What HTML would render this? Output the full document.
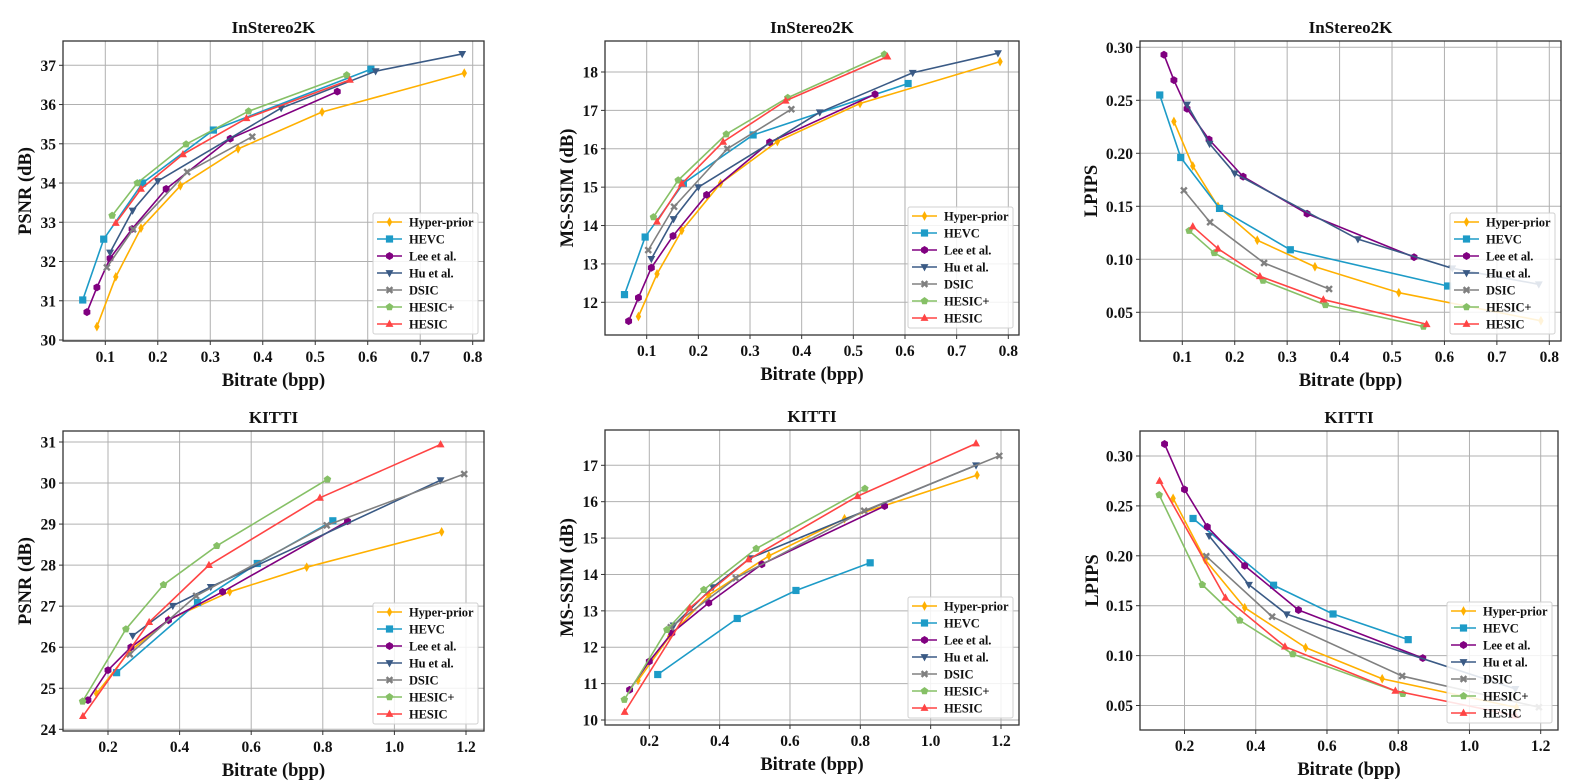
<!DOCTYPE html>
<html><head><meta charset="utf-8">
<style>
html,body{margin:0;padding:0;background:#fff;}
svg{display:block;font-family:"Liberation Serif","Times New Roman",serif;}
</style></head>
<body>
<svg id="fig" width="1576" height="784" viewBox="0 0 1576 784" xmlns="http://www.w3.org/2000/svg"></svg>
<script>
// ---- series metadata ----
const seriesNames = ["Hyper-prior","HEVC","Lee et al.","Hu et al.","DSIC","HESIC+","HESIC"];
// ---- InStereo2K bitrates ----
const isHyperX = [0.084,0.120,0.168,0.243,0.353,0.513,0.784];
const isHevcX  = [0.057,0.097,0.171,0.306,0.606];
const isLeeX   = [0.065,0.084,0.109,0.151,0.216,0.338,0.542];
const isHuX    = [0.109,0.152,0.200,0.435,0.615,0.780];
const isDsicX  = [0.103,0.153,0.256,0.380];
const isHesicPX= [0.113,0.161,0.254,0.373,0.560];
const isHesicX = [0.120,0.168,0.248,0.369,0.566];
// InStereo2K PSNR
const isPsnrHyper = [30.34,31.61,32.85,33.93,34.87,35.81,36.80];
const isPsnrHevc  = [31.02,32.57,34.00,35.35,36.90];
const isPsnrLee   = [30.71,31.34,32.08,32.83,33.85,35.13,36.33];
const isPsnrHu    = [32.23,33.30,34.05,35.91,36.85,37.29];
const isPsnrDsic  = [31.85,32.82,34.28,35.18];
const isPsnrHesicP= [33.17,34.00,34.99,35.83,36.75];
const isPsnrHesic = [32.98,33.85,34.73,35.65,36.63];
// InStereo2K MS-SSIM
const isSsimHyper = [11.63,12.74,13.87,15.10,16.19,17.18,18.27];
const isSsimHevc  = [12.20,13.70,15.10,16.36,17.70];
const isSsimLee   = [11.51,12.12,12.90,13.73,14.80,16.17,17.42];
const isSsimHu    = [13.13,14.17,15.00,16.95,17.98,18.49];
const isSsimDsic  = [13.36,14.49,16.00,17.03];
const isSsimHesicP= [14.22,15.18,16.38,17.33,18.46];
const isSsimHesic = [14.10,15.09,16.18,17.25,18.40];
// InStereo2K LPIPS
const isLpHyper = [0.230,0.188,0.150,0.118,0.093,0.0685,0.042];
const isLpHevc  = [0.255,0.196,0.148,0.109,0.0748];
const isLpLee   = [0.293,0.269,0.242,0.213,0.178,0.143,0.102];
const isLpHu    = [0.246,0.209,0.181,0.119,0.0915,0.0764];
const isLpDsic  = [0.165,0.135,0.0965,0.072];
const isLpHesicP= [0.127,0.106,0.080,0.057,0.0365];
const isLpHesic = [0.131,0.110,0.084,0.062,0.0387];
// ---- KITTI bitrates ----
const kHyperX = [0.168,0.258,0.369,0.540,0.755,1.132];
const kHevcX  = [0.224,0.450,0.617,0.828];
const kLeeX   = [0.144,0.200,0.264,0.369,0.520,0.869];
const kHuX    = [0.269,0.381,0.487,1.129];
const kDsicX  = [0.261,0.446,0.811,1.195];
const kHesicPX= [0.129,0.250,0.355,0.504,0.813];
const kHesicX = [0.130,0.315,0.482,0.792,1.129];
// KITTI PSNR
const kPsnrHyper = [24.87,25.88,26.67,27.35,27.95,28.81];
const kPsnrHevc  = [25.38,27.09,28.04,29.08];
const kPsnrLee   = [24.71,25.44,26.00,26.66,27.35,29.07];
const kPsnrHu    = [26.28,27.01,27.47,30.07];
const kPsnrDsic  = [25.83,27.25,28.97,30.22];
const kPsnrHesicP= [24.68,26.44,27.52,28.47,30.09];
const kPsnrHesic = [24.32,26.61,28.00,29.64,30.94];
// KITTI MS-SSIM
const kSsimHyper = [11.09,12.30,13.43,14.51,15.53,16.73];
const kSsimHevc  = [11.25,12.79,13.56,14.32];
const kSsimLee   = [10.83,11.61,12.39,13.22,14.28,15.88];
const kSsimHu    = [12.60,13.65,14.45,17.00];
const kSsimDsic  = [12.55,13.90,15.75,17.26];
const kSsimHesicP= [10.56,12.48,13.58,14.71,16.36];
const kSsimHesic = [10.22,13.08,14.41,16.15,17.60];
// KITTI LPIPS
const kLpHyper = [0.2575,0.196,0.148,0.108,0.0768,0.048];
const kLpHevc  = [0.2374,0.1705,0.1417,0.116];
const kLpLee   = [0.312,0.2665,0.229,0.190,0.1457,0.0975];
const kLpHu    = [0.220,0.171,0.1414,0.0667];
const kLpDsic  = [0.1996,0.139,0.0795,0.0483];
const kLpHesicP= [0.261,0.171,0.1353,0.1015,0.0617];
const kLpHesic = [0.275,0.158,0.109,0.0647,0.040];
// tick labels
const isXTicks = [0.1,0.2,0.3,0.4,0.5,0.6,0.7,0.8];
const kXTicks  = [0.2,0.4,0.6,0.8,1.0,1.2];
const isPsnrTicks = [30,31,32,33,34,35,36,37];
const isSsimTicks = [12,13,14,15,16,17,18];
const lpTicks = [0.05,0.10,0.15,0.20,0.25,0.30];
const kPsnrTicks = [24,25,26,27,28,29,30,31];
const kSsimTicks = [10,11,12,13,14,15,16,17];

const colors = ["#FFB000","#1D9BC7","#800080","#3A5A85","#808080","#86C066","#FF4444"];
const markers = ["diamond","square","hex","tridown","x","pent","triup"];

const isXs = [isHyperX,isHevcX,isLeeX,isHuX,isDsicX,isHesicPX,isHesicX];
const kXs  = [kHyperX,kHevcX,kLeeX,kHuX,kDsicX,kHesicPX,kHesicX];

const plots = [
 {name:"instereo-psnr",title:"InStereo2K",ylabel:"PSNR (dB)",box:[63,41,484,341],xr:[0.1,105.3,0.8,472.7],yr:[37,65.3,30,340],xt:isXTicks,yt:isPsnrTicks,yd:0,xd:1,ylx:25,xs:isXs,ys:[isPsnrHyper,isPsnrHevc,isPsnrLee,isPsnrHu,isPsnrDsic,isPsnrHesicP,isPsnrHesic]},
 {name:"instereo-msssim",title:"InStereo2K",ylabel:"MS-SSIM (dB)",box:[605,41,1019,335],xr:[0.1,646.7,0.8,1008.3],yr:[18,72,12,302.3],xt:isXTicks,yt:isSsimTicks,yd:0,xd:1,ylx:567,xs:isXs,ys:[isSsimHyper,isSsimHevc,isSsimLee,isSsimHu,isSsimDsic,isSsimHesicP,isSsimHesic]},
 {name:"instereo-lpips",title:"InStereo2K",ylabel:"LPIPS",box:[1140,41,1561,341],xr:[0.1,1182.3,0.8,1549.3],yr:[0.30,47.3,0.05,312.3],xt:isXTicks,yt:lpTicks,yd:2,xd:1,ylx:1091,xs:isXs,ys:[isLpHyper,isLpHevc,isLpLee,isLpHu,isLpDsic,isLpHesicP,isLpHesic]},
 {name:"kitti-psnr",title:"KITTI",ylabel:"PSNR (dB)",box:[63,431,484,731],xr:[0.2,108,1.2,466],yr:[31,442,24,729.3],xt:kXTicks,yt:kPsnrTicks,yd:0,xd:1,ylx:25,xs:kXs,ys:[kPsnrHyper,kPsnrHevc,kPsnrLee,kPsnrHu,kPsnrDsic,kPsnrHesicP,kPsnrHesic]},
 {name:"kitti-msssim",title:"KITTI",ylabel:"MS-SSIM (dB)",box:[605,430,1019,725],xr:[0.2,649.3,1.2,1001],yr:[17,465.3,10,720],xt:kXTicks,yt:kSsimTicks,yd:0,xd:1,ylx:567,xs:kXs,ys:[kSsimHyper,kSsimHevc,kSsimLee,kSsimHu,kSsimDsic,kSsimHesicP,kSsimHesic]},
 {name:"kitti-lpips",title:"KITTI",ylabel:"LPIPS",box:[1140,431,1558,730],xr:[0.2,1184.5,1.2,1540.7],yr:[0.30,456,0.05,705.5],xt:kXTicks,yt:lpTicks,yd:2,xd:1,ylx:1092,xs:kXs,ys:[kLpHyper,kLpHevc,kLpLee,kLpHu,kLpDsic,kLpHesicP,kLpHesic]}
];

const NS="http://www.w3.org/2000/svg";
const svg=document.getElementById("fig");
function mk(tag,attrs,parent){const e=document.createElementNS(NS,tag);for(const k in attrs)e.setAttribute(k,attrs[k]);(parent||svg).appendChild(e);return e;}
function lin(r){const s=(r[3]-r[1])/(r[2]-r[0]);return v=>r[1]+(v-r[0])*s;}

function marker(type,cx,cy,col,g){
  const r=3.6;let el;
  if(type==="square"){el=mk("rect",{x:cx-r,y:cy-r,width:2*r,height:2*r,fill:col},g);}
  else if(type==="diamond"){el=mk("polygon",{points:`${cx},${cy-r*1.35} ${cx+r*0.75},${cy} ${cx},${cy+r*1.35} ${cx-r*0.75},${cy}`,fill:col},g);}
  else if(type==="hex"){let p=[];for(let i=0;i<6;i++){const a=Math.PI/6+i*Math.PI/3;p.push((cx+r*1.1*Math.cos(a)).toFixed(2)+","+(cy+r*1.1*Math.sin(a)).toFixed(2));}el=mk("polygon",{points:p.join(" "),fill:col},g);}
  else if(type==="pent"){let p=[];for(let i=0;i<5;i++){const a=-Math.PI/2+i*2*Math.PI/5;p.push((cx+r*1.1*Math.cos(a)).toFixed(2)+","+(cy+r*1.1*Math.sin(a)).toFixed(2));}el=mk("polygon",{points:p.join(" "),fill:col},g);}
  else if(type==="triup"){el=mk("polygon",{points:`${cx},${cy-r*1.2} ${cx+r*1.1},${cy+r*0.8} ${cx-r*1.1},${cy+r*0.8}`,fill:col},g);}
  else if(type==="tridown"){el=mk("polygon",{points:`${cx},${cy+r*1.2} ${cx+r*1.1},${cy-r*0.8} ${cx-r*1.1},${cy-r*0.8}`,fill:col},g);}
  else {const q=2.9;el=mk("path",{d:`M${cx-q},${cy-q}L${cx+q},${cy+q}M${cx+q},${cy-q}L${cx-q},${cy+q}`,stroke:col,"stroke-width":2.4},g);}
  return el;
}

plots.forEach((P,pi)=>{
  const g=mk("g",{});
  
  
  const [x0,y0,x1,y1]=P.box;
  const X=lin(P.xr),Y=lin(P.yr);
  P.xt.forEach(t=>{const x=X(t);const l=mk("line",{x1:x,y1:y0,x2:x,y2:y1,stroke:"#b0b0b0","stroke-width":1},g);
    
    
    mk("line",{x1:x,y1:y1,x2:x,y2:y1+4,stroke:"#333","stroke-width":1},g);
    const tx=mk("text",{x:x,y:y1+21,"text-anchor":"middle","font-size":"15.5","font-weight":"bold",fill:"#111"},g);
    tx.textContent=t.toFixed(P.xd);
    
    
  });
  P.yt.forEach(t=>{const y=Y(t);const l=mk("line",{x1:x0,y1:y,x2:x1,y2:y,stroke:"#b0b0b0","stroke-width":1},g);
    
    
    mk("line",{x1:x0-4,y1:y,x2:x0,y2:y,stroke:"#333","stroke-width":1},g);
    const tx=mk("text",{x:x0-7,y:y+5.5,"text-anchor":"end","font-size":"15.5","font-weight":"bold",fill:"#111"},g);
    tx.textContent=t.toFixed(P.yd);
    
    
  });
  const clip=mk("clipPath",{id:"c"+pi},g);mk("rect",{x:x0,y:y0,width:x1-x0,height:y1-y0},clip);
  const sg=mk("g",{"clip-path":`url(#c${pi})`},g);
  for(let s=0;s<seriesNames.length;s++){
    const xs=P.xs[s],ys=P.ys[s];
    const pts=xs.map((v,i)=>X(v).toFixed(2)+","+Y(ys[i]).toFixed(2)).join(" ");
    const pl=mk("polyline",{points:pts,fill:"none",stroke:colors[s],"stroke-width":1.6,"stroke-linejoin":"round"},sg);
    
    
    xs.forEach((v,i)=>{const m=marker(markers[s],X(v),Y(ys[i]),colors[s],sg);
      
      
    });
  }
  const fr=mk("rect",{x:x0,y:y0,width:x1-x0,height:y1-y0,fill:"none",stroke:"#333","stroke-width":1.3},g);
  
  
  const ti=mk("text",{x:(x0+x1)/2,y:y0-8,"text-anchor":"middle","font-size":"17","font-weight":"bold",fill:"#111"},g);
  ti.textContent=P.title;
  
  
  const xl=mk("text",{x:(x0+x1)/2,y:y1+45,"text-anchor":"middle","font-size":"18.5","font-weight":"bold",fill:"#111"},g);
  xl.textContent="Bitrate (bpp)";
  
  
  const yc=(y0+y1)/2;
  const yl=mk("text",{x:P.ylx,y:yc,"text-anchor":"middle","font-size":"18.5","font-weight":"bold",fill:"#111",transform:`rotate(-90 ${P.ylx} ${yc}) translate(0 6)`},g);
  yl.textContent=P.ylabel;
  
  
  const lw=105,lh=121,lx=x1-6-lw,ly=y1-7-lh;
  const lg=mk("g",{},g);
  
  
  mk("rect",{x:lx,y:ly,width:lw,height:lh,rx:2,fill:"#fff","fill-opacity":0.85,stroke:"#d0d0d0","stroke-width":1},lg);
  seriesNames.forEach((n,s)=>{
    const ey=ly+9+s*17;
    const e=mk("g",{},lg);
    
    
    mk("line",{x1:lx+4,y1:ey,x2:lx+29,y2:ey,stroke:colors[s],"stroke-width":1.6},e);
    marker(markers[s],lx+16.5,ey,colors[s],e);
    const t=mk("text",{x:lx+36,y:ey+4.5,"font-size":"12.5","font-weight":"bold",fill:"#111","letter-spacing":"-0.1"},e);
    t.textContent=n;
  });
});
</script>
</body></html>
